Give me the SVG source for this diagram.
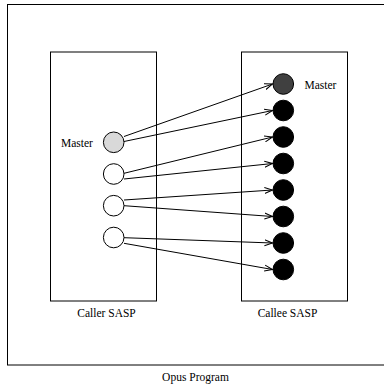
<svg xmlns="http://www.w3.org/2000/svg" width="384" height="387" viewBox="0 0 384 387">
<style>
.box{fill:none;stroke:#000;stroke-width:1}
.c{stroke:#000;stroke-width:1}
.t{font-family:"Liberation Serif","Times New Roman",serif;font-size:11.5px;fill:#000}
.e{fill:none;stroke:#000;stroke-width:1}
</style>
<defs>
<marker id="a" markerWidth="10" markerHeight="8" refX="8" refY="4" orient="auto" markerUnits="userSpaceOnUse">
<path d="M0,1 L8,4 L0,7" fill="none" stroke="#000" stroke-width="1"/>
</marker>
</defs>
<rect width="384" height="387" fill="#fff"/>
<g id="program">
<rect class="box" x="7.5" y="4.5" width="390" height="360.5"/>
<text class="t" x="195.5" y="381" text-anchor="middle">Opus Program</text>
</g>
<g id="caller">
<rect class="box" x="50.5" y="52" width="106" height="249"/>
<text class="t" x="106.5" y="317" text-anchor="middle">Caller SASP</text>
</g>
<g id="callee">
<rect class="box" x="241.5" y="52" width="106" height="249"/>
<text class="t" x="287.5" y="317" text-anchor="middle">Callee SASP</text>
</g>
<g id="caller-master"><circle class="c" cx="113.7" cy="142.3" r="10.3" fill="#d9d9d9"/><text class="t" x="61" y="147">Master</text></g>
<g id="caller-2"><circle class="c" cx="113.7" cy="174" r="10.3" fill="#fff"/></g>
<g id="caller-3"><circle class="c" cx="113.7" cy="205.7" r="10.3" fill="#fff"/></g>
<g id="caller-4"><circle class="c" cx="113.7" cy="237.5" r="10.3" fill="#fff"/></g>
<g id="callee-master"><circle class="c" cx="283.3" cy="84" r="10.3" fill="#404040"/><text class="t" x="304.5" y="89">Master</text></g>
<g id="callee-2"><circle class="c" cx="283.3" cy="110.5" r="10.3" fill="#000"/></g>
<g id="callee-3"><circle class="c" cx="283.3" cy="137" r="10.3" fill="#000"/></g>
<g id="callee-4"><circle class="c" cx="283.3" cy="163.5" r="10.3" fill="#000"/></g>
<g id="callee-5"><circle class="c" cx="283.3" cy="190" r="10.3" fill="#000"/></g>
<g id="callee-6"><circle class="c" cx="283.3" cy="216.5" r="10.3" fill="#000"/></g>
<g id="callee-7"><circle class="c" cx="283.3" cy="243" r="10.3" fill="#000"/></g>
<g id="callee-8"><circle class="c" cx="283.3" cy="269.5" r="10.3" fill="#000"/></g>
<g id="connectors">
<line class="e" x1="124" y1="136.5" x2="272.5" y2="84" marker-end="url(#a)"/>
<line class="e" x1="124" y1="141.5" x2="272.5" y2="110.5" marker-end="url(#a)"/>
<line class="e" x1="124" y1="173.3" x2="272.5" y2="137" marker-end="url(#a)"/>
<line class="e" x1="124" y1="179" x2="272.5" y2="163.5" marker-end="url(#a)"/>
<line class="e" x1="124" y1="200" x2="272.5" y2="190" marker-end="url(#a)"/>
<line class="e" x1="124" y1="205.7" x2="272.5" y2="216.5" marker-end="url(#a)"/>
<line class="e" x1="124" y1="237.7" x2="272.5" y2="243" marker-end="url(#a)"/>
<line class="e" x1="124" y1="243.3" x2="272.5" y2="269.5" marker-end="url(#a)"/>
</g>
</svg>
